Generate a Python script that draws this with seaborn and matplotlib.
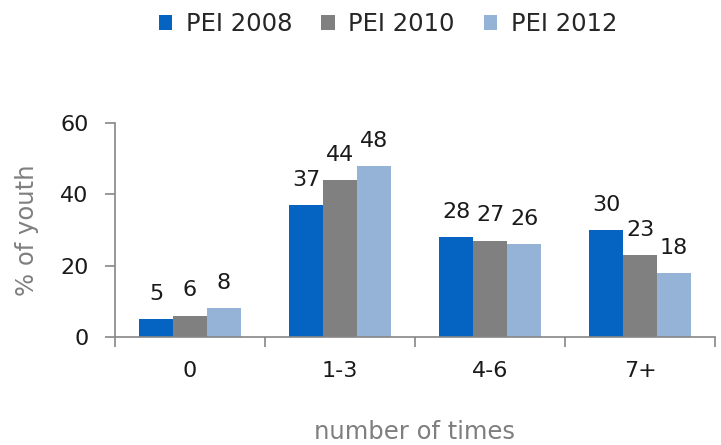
import matplotlib
matplotlib.use("Agg")
import matplotlib.pyplot as plt
import seaborn as sns
import pandas as pd
import numpy as np

categories = ["0", "1-3", "4-6", "7+"]
series = ["PEI 2008", "PEI 2010", "PEI 2012"]
v2008 = [5, 37, 28, 30]
v2010 = [6, 44, 27, 23]
v2012 = [8, 48, 26, 18]
colors = ["#0563C1", "#808080", "#95B3D7"]

rows = []
for s, vals in zip(series, [v2008, v2010, v2012]):
    for c, v in zip(categories, vals):
        rows.append({"cat": c, "series": s, "val": v})
df = pd.DataFrame(rows)

sns.set_theme(style="white")
plt.rcParams['font.family'] = ['DejaVu Sans']

fig = plt.figure(figsize=(7.21, 4.45), dpi=100)
ax = fig.add_axes([115/721, 108/445, 600/721, 214/445])
sns.barplot(data=df, x="cat", y="val", hue="series", palette=colors,
            width=0.68, gap=0, saturation=1, ax=ax, legend=True, linewidth=0)

for cont in ax.containers:
    ax.bar_label(cont, fmt="%d", padding=11, fontsize=16, color="#1a1a1a")

ax.set_ylim(0, 60)
ax.set_yticks([0, 20, 40, 60])
ax.set_xlim(-0.5, 3.5)
ax.set_xlabel("number of times", fontsize=17.5, color="#7f7f7f")
ax.set_ylabel("% of youth", fontsize=17.5, color="#7f7f7f")
ax.xaxis.set_label_coords(0.5, -0.39)
ax.yaxis.set_label_coords(-0.127, 0.5)
ax.tick_params(axis="y", labelsize=16, colors="#1a1a1a", length=7, width=1.2,
               color="#868686", left=True, direction="out", pad=12)
ax.tick_params(axis="x", which="major", labelsize=16, colors="#1a1a1a", length=0, pad=17)
ax.set_xticks(np.arange(-0.5, 4.0, 1.0), minor=True)
ax.tick_params(axis="x", which="minor", length=7, width=1.2, color="#868686", bottom=True, direction="out")
for sp in ["top", "right"]:
    ax.spines[sp].set_visible(False)
for sp in ["left", "bottom"]:
    ax.spines[sp].set_color("#868686")
    ax.spines[sp].set_linewidth(1.2)

handles, labels = ax.get_legend_handles_labels()
ax.legend(handles, labels, loc="center", bbox_to_anchor=(388/721, 1 - 24/445),
          bbox_transform=fig.transFigure, ncol=3, frameon=False, fontsize=17.5,
          handlelength=0.55, handleheight=0.55, handletextpad=0.55, columnspacing=1.2,
          borderpad=0, borderaxespad=0)

fig.savefig("out.png", dpi=100)
